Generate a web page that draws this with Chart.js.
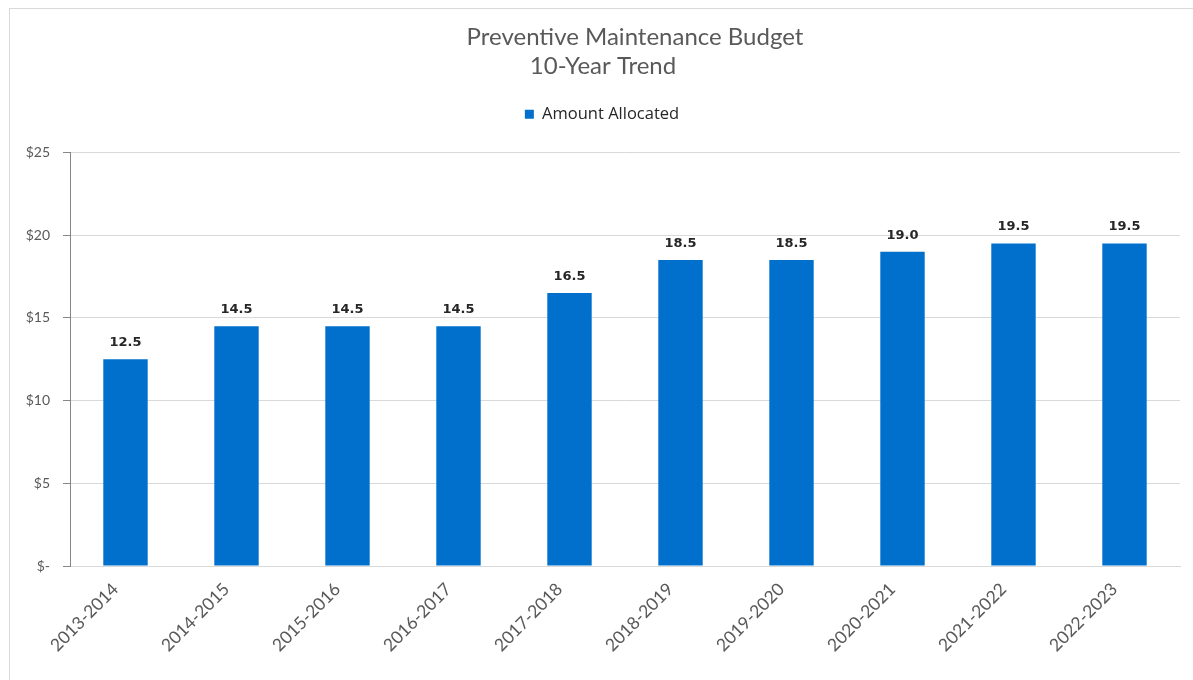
<!DOCTYPE html>
<html>
<head>
<meta charset="utf-8">
<script src="https://cdn.jsdelivr.net/npm/chart.js@4.4.1/dist/chart.umd.min.js"></script>
<style>
  html, body { margin: 0; padding: 0; background: #fff; overflow: hidden; }
  #frame {
    position: absolute; left: 0; top: 0; width: 1193px; height: 680px;
  }
  #border {
    position: absolute; left: 9px; top: 8px; width: 1200px; height: 700px;
    border: 1px solid #d9d9d9; box-sizing: border-box; pointer-events: none;
  }
</style>
</head>
<body>
<div id="frame">
  <canvas id="chart" width="1193" height="680"></canvas>
  <div id="border"></div>
</div>
<script>
const categories = [
  "2013-2014", "2014-2015", "2015-2016", "2016-2017", "2017-2018",
  "2018-2019", "2019-2020", "2020-2021", "2021-2022", "2022-2023",
];
const amountAllocated = [12.5, 14.5, 14.5, 14.5, 16.5, 18.5, 18.5, 19.0, 19.5, 19.5];
const titleLines = ["Preventive Maintenance Budget", "10-Year Trend"];
const seriesName = "Amount Allocated";

const barColor = "#0070cc";
const axisGray = "#595959";

// title drawn by hand so the second line can sit off-centre like the original
const titlePlugin = {
  id: "twoLineTitle",
  afterDraw(chart) {
    const ctx = chart.ctx;
    const cx = (chart.chartArea.left + chart.chartArea.right) / 2 + 10;
    ctx.save();
    ctx.fillStyle = axisGray;
    ctx.font = "24px Lato";
    ctx.textAlign = "center";
    ctx.textBaseline = "middle";
    ctx.fillText(titleLines[0], cx, 37);
    ctx.fillText(titleLines[1], cx - 32, 66);
    ctx.restore();
  },
};

const valueLabels = {
  id: "valueLabels",
  afterDatasetsDraw(chart) {
    const ctx = chart.ctx;
    const meta = chart.getDatasetMeta(0);
    ctx.save();
    ctx.fillStyle = "#262626";
    ctx.font = "bold 13px 'DejaVu Sans'";
    ctx.textAlign = "center";
    ctx.textBaseline = "bottom";
    meta.data.forEach((bar, i) => {
      ctx.fillText(amountAllocated[i].toFixed(1), bar.x, bar.y - 10);
    });
    ctx.restore();
  },
};

new Chart(document.getElementById("chart"), {
  type: "bar",
  data: {
    labels: categories,
    datasets: [{
      label: seriesName,
      data: amountAllocated,
      backgroundColor: barColor,
      borderWidth: 0,
      categoryPercentage: 1.0,
      barPercentage: 0.4,
    }],
  },
  options: {
    responsive: false,
    animation: false,
    devicePixelRatio: 1,
    layout: { padding: { left: 24, right: 13, top: 75, bottom: 4 } },
    plugins: {
      // empty title used only as a gap between legend and plot
      title: {
        display: true,
        text: "",
        weight: 500,
        font: { size: 10, lineHeight: 1 },
        padding: { top: 0, bottom: 10 },
      },
      tooltip: { enabled: false },
      legend: {
        display: true,
        position: "top",
        labels: {
          boxWidth: 9,
          boxHeight: 9,
          color: "#262626",
          font: { family: "Open Sans", size: 16.5 },
          padding: 31,
        },
      },
    },
    scales: {
      x: {
        grid: { display: false },
        border: { display: true, color: "#d9d9d9" },
        ticks: {
          color: axisGray,
          font: { family: "Lato", size: 17.5 },
          minRotation: 45,
          maxRotation: 45,
          padding: 5,
          labelOffset: -10,
        },
        afterFit(scale) { scale.height = 110; },
      },
      y: {
        min: 0,
        max: 25,
        ticks: {
          stepSize: 5,
          color: axisGray,
          font: { family: "Lato", size: 14 },
          padding: 13,
          callback: (v) => (v === 0 ? "$-" : "$" + v),
        },
        grid: {
          color: "#d9d9d9",
          tickColor: "#868686",
          tickLength: 7,
          drawTicks: true,
        },
        border: { display: true, color: "#868686" },
        afterFit(scale) { scale.width = 46; },
      },
    },
  },
  plugins: [titlePlugin, valueLabels],
});
</script>
</body>
</html>
